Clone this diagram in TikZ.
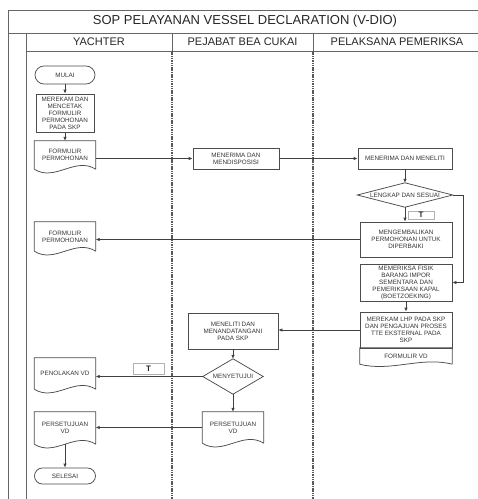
\documentclass[tikz,border=0pt]{standalone}
\usepackage{fontspec}
\setmainfont{Liberation Sans}
\usetikzlibrary{arrows.meta,calc}
\newcommand\docshape[2]{%
  \draw[shapeline] (#1.south east) -- (#1.north east) -- (#1.north west) -- (#1.south west)
    .. controls ($(#1.south west)!0.3333!(#1.south east)+(0,#2)$) and ($(#1.south west)!0.6667!(#1.south east)+(0,-#2)$) .. (#1.south east);}
\newcommand\diamondshape[1]{%
  \draw[shapeline] (#1.north) -- (#1.east) -- (#1.south) -- (#1.west) -- cycle;}
\begin{document}
\begin{tikzpicture}[x=1pt,y=-1pt,
  frame/.style={draw=black!60, line width=0.9pt},
  lane/.style={draw=black!65, line width=1.2pt, dash pattern=on 1.5pt off 0.8pt},
  shapeline/.style={draw=black!70, line width=0.75pt},
  txt/.style={align=center, font=\fontsize{6.3}{7}\selectfont, text=black!80, inner sep=1pt},
  box/.style={txt, shapeline, fill=white},
  doc/.style={txt},
  dia/.style={txt},
  tlabel/.style={draw=black!30, line width=0.6pt, inner sep=0pt, font=\fontsize{8}{8}\bfseries, text=black!85},
  flow/.style={draw=black!75, line width=0.75pt, -{Latex[length=4pt,width=3.5pt]}},
  head/.style={font=\fontsize{11}{11}\selectfont, text=black!85},
  title/.style={font=\fontsize{13}{13}\selectfont, text=black!85}]
\useasboundingbox (0,0) rectangle (478,499);

% frame
\draw[frame] (8,10) -- (478,10);
\draw[frame] (8,33) -- (478,33);
\draw[frame] (26,51) -- (478,51);
\draw[frame] (8,10) -- (8,499);
\draw[frame] (26,33) -- (26,499);
\draw[frame] (172,33) -- (172,51);
\draw[frame] (313,33) -- (313,51);
\draw[lane] (172,51) -- (172,499);
\draw[lane] (313,51) -- (313,499);

\node[title] (ttl) at (245,21.5) {SOP PELAYANAN VESSEL DECLARATION (V-DIO)};
\node[head] (h1) at (99,42) {YACHTER};
\node[head] (h2) at (242.5,42) {PEJABAT BEA CUKAI};
\node[head] (h3) at (397,42) {PELAKSANA PEMERIKSA};

% nodes
\node[box, minimum width=60pt, minimum height=18pt, rounded corners=9pt] (mulai) at (65,75) {MULAI};
\node[box, minimum width=58pt, minimum height=38pt] (merekam) at (65,113) {MEREKAM DAN\\MENCETAK\\FORMULIR\\PERMOHONAN\\PADA SKP};
\node[doc, minimum width=61pt, minimum height=28pt] (doc1) at (65,155) {FORMULIR\\PERMOHONAN};
\docshape{doc1}{13}
\node[box, minimum width=86pt, minimum height=21pt] (disposisi) at (236,158.5) {MENERIMA DAN\\MENDISPOSISI};
\node[box, minimum width=94pt, minimum height=21pt] (meneliti) at (405,158.5) {MENERIMA DAN MENELITI};
\node[dia, minimum width=95pt, minimum height=24pt] (lengkap) at (405,195) {LENGKAP DAN SESUAI};
\diamondshape{lengkap}
\node[box, minimum width=92pt, minimum height=35pt] (kembali) at (406,239.5) {MENGEMBALIKAN\\PERMOHONAN UNTUK\\DIPERBAIKI};
\node[doc, minimum width=61pt, minimum height=29pt] (doc2) at (65,236.5) {FORMULIR\\PERMOHONAN};
\docshape{doc2}{13}
\node[box, minimum width=92pt, minimum height=37pt] (periksa) at (406,282.5) {MEMERIKSA FISIK\\BARANG IMPOR\\SEMENTARA DAN\\PEMERIKSAAN KAPAL\\(BOETZOEKING)};
\node[box, minimum width=92pt, minimum height=36pt] (lhp) at (406,330) {MEREKAM LHP PADA SKP\\DAN PENGAJUAN PROSES\\TTE EKSTERNAL PADA\\SKP};
\node[doc, minimum width=92pt, minimum height=16pt] (formvd) at (406,356) {FORMULIR VD};
\docshape{formvd}{8}
\node[box, minimum width=90pt, minimum height=36pt] (tanda) at (233,331) {MENELITI DAN\\MENANDATANGANI\\PADA SKP};
\node[dia, minimum width=60pt, minimum height=35pt] (setuju) at (233,376.5) {MENYETUJUI};
\diamondshape{setuju}
\node[doc, minimum width=61pt, minimum height=31pt] (midp) at (233,427.5) {PERSETUJUAN\\VD};
\docshape{midp}{13}
\node[doc, minimum width=61pt, minimum height=31pt] (penolakan) at (65,373.5) {PENOLAKAN VD};
\docshape{penolakan}{13}
\node[doc, minimum width=61pt, minimum height=32pt] (pl) at (65,428) {PERSETUJUAN\\VD};
\docshape{pl}{13}
\node[box, minimum width=61pt, minimum height=16pt, rounded corners=8pt] (selesai) at (65,476) {SELESAI};

\node[tlabel, minimum width=26pt, minimum height=8pt] (t1) at (421,215) {T};
\node[tlabel, minimum width=31pt, minimum height=11pt] (t2) at (148.5,368.5) {T};

% connectors
\draw[flow] (mulai) -- (merekam);
\draw[flow] (merekam) -- (doc1);
\draw[flow] (doc1.east |- disposisi.west) -- (disposisi.west);
\draw[flow] (disposisi) -- (meneliti);
\draw[flow] (meneliti) -- (lengkap);
\draw[flow] (lengkap.south) -- (lengkap.south |- kembali.north);
\draw[flow] (kembali.west) -- (kembali.west -| doc2.east);
\draw[flow] (lengkap.east) -- ++(11,0) |- (periksa.east);
\draw[flow] (periksa) -- (lhp);
\draw[flow] (lhp.west) -- (lhp.west -| tanda.east);
\draw[flow] (tanda) -- (setuju);
\draw[flow] (setuju) -- (midp);
\draw[flow] (setuju.west) -- (setuju.west -| penolakan.east);
\draw[flow] (midp.west) -- (midp.west -| pl.east);
\draw[flow] (pl.south) -- (selesai.north);
\end{tikzpicture}
\end{document}
